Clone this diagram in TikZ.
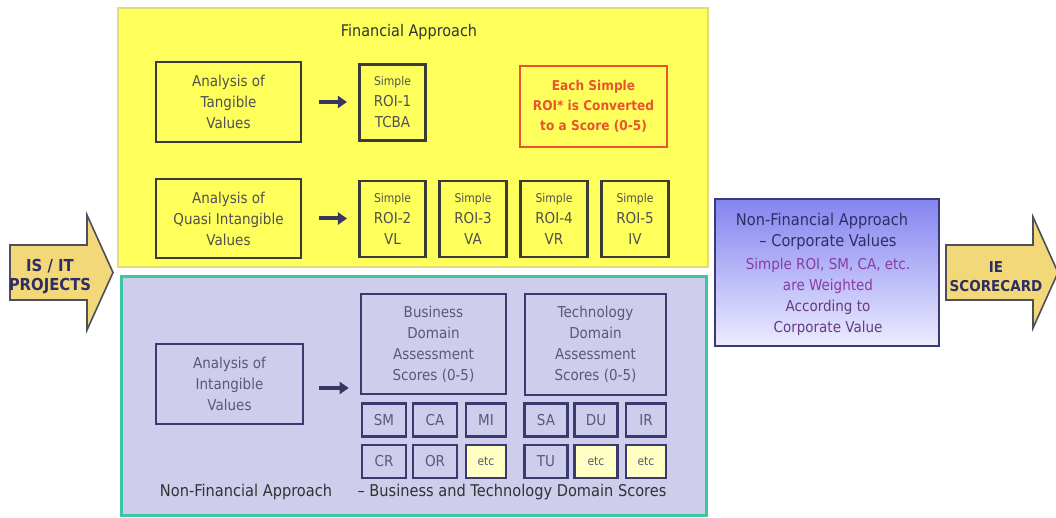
\documentclass[tikz,border=0pt]{standalone}
\usepackage{fontspec}
\setmainfont{DejaVu Sans}[FakeStretch=0.9]
\usetikzlibrary{arrows.meta}

\definecolor{panelyellow}{RGB}{255,255,92}
\definecolor{paneledge}{RGB}{226,220,120}
\definecolor{boxline}{RGB}{58,58,58}
\definecolor{boxtext}{RGB}{80,80,80}
\definecolor{roired}{RGB}{232,84,50}
\definecolor{lavender}{RGB}{206,206,236}
\definecolor{tealedge}{RGB}{58,200,160}
\definecolor{navyline}{RGB}{58,58,112}
\definecolor{navytext}{RGB}{88,88,124}
\definecolor{etcfill}{RGB}{255,255,196}
\definecolor{gold}{RGB}{242,216,120}
\definecolor{arrowedge}{RGB}{78,78,92}
\definecolor{violettop}{RGB}{132,132,240}
\definecolor{violetbot}{RGB}{236,236,255}
\definecolor{cvdark}{RGB}{46,46,100}
\definecolor{cvpurple}{RGB}{138,58,168}
\definecolor{cvplum}{RGB}{104,58,128}
\definecolor{textdark}{RGB}{50,50,50}
\definecolor{pointer}{RGB}{55,55,95}

\begin{document}
\begin{tikzpicture}[x=1pt,y=-1pt,
  every node/.style={inner sep=0pt, align=center, font=\fontsize{15}{21}\selectfont},
  finbox/.style={draw=boxline, line width=2.6pt, text=boxtext},
  roibox/.style={finbox, minimum width=66.5pt, minimum height=76pt},
  domainbox/.style={draw=navyline, line width=2.6pt, text=navytext},
  scorebox/.style={domainbox, minimum width=44pt, minimum height=33pt},
  etcbox/.style={scorebox, fill=etcfill, font=\fontsize{12}{14}\selectfont},
  pointerarrow/.style={draw=pointer, line width=4pt, -{Triangle[length=9pt,width=12pt]}},
  bigarrow/.style={draw=arrowedge, fill=gold, line width=1.6pt, line join=miter},
  bigtext/.style={font=\bfseries\fontsize{15}{19}\selectfont, text=cvdark},
]
\useasboundingbox (0,0) rectangle (1056,518);
\fill[white] (0,0) rectangle (1056,518);

% ---- incoming arrow: IS / IT projects
\path[bigarrow] (10,245) -- (87,245) -- (87,215) -- (113,272.5) -- (87,330)
  -- (87,300) -- (10,300) -- cycle;
\node[bigtext, font=\bfseries\fontsize{16.5}{19}\selectfont] (proj) at (50,277) {IS / IT\\PROJECTS};

% ---- financial approach panel
\node[draw=paneledge, fill=panelyellow, line width=1.6pt,
      minimum width=590pt, minimum height=259pt] (fin) at (413,137.5) {};
\node[font=\fontsize{16}{20}\selectfont, text=textdark] (fintitle) at (409,32) {Financial Approach};

\node[finbox, minimum width=145pt, minimum height=80pt] (tang) at (228.5,102)
  {Analysis of\\Tangible\\Values};
\node[roibox] (roi1) at (392.5,102.5)
  {{\fontsize{12}{21}\selectfont Simple}\\ROI-1\\TCBA};
\node[draw=roired, line width=2.6pt, text=roired, minimum width=147pt, minimum height=81pt,
      font=\bfseries\fontsize{13.5}{20}\selectfont] (conv) at (593.5,106.5)
  {Each Simple\\ROI* is Converted\\to a Score (0-5)};

\node[finbox, minimum width=145pt, minimum height=79pt] (quasi) at (228.5,218.5)
  {Analysis of\\Quasi Intangible\\Values};
\node[roibox] (roi2) at (392.5,219) {{\fontsize{12}{21}\selectfont Simple}\\ROI-2\\VL};
\node[roibox] (roi3) at (473,219)   {{\fontsize{12}{21}\selectfont Simple}\\ROI-3\\VA};
\node[roibox] (roi4) at (554,219)   {{\fontsize{12}{21}\selectfont Simple}\\ROI-4\\VR};
\node[roibox] (roi5) at (635,219)   {{\fontsize{12}{21}\selectfont Simple}\\ROI-5\\IV};

\draw[pointerarrow, shorten <=17pt, shorten >=11pt] (tang.east) -- (tang.east -| roi1.west);
\draw[pointerarrow, shorten <=17pt, shorten >=11pt] (quasi.east) -- (quasi.east -| roi2.west);

% ---- non-financial approach panel
\node[draw=tealedge, fill=lavender, line width=3pt,
      minimum width=585pt, minimum height=238pt] (nonfin) at (413.5,396) {};

\node[domainbox, minimum width=147pt, minimum height=80pt] (intang) at (229.5,384)
  {Analysis of\\Intangible\\Values};
\node[domainbox, minimum width=145pt, minimum height=100pt] (bus) at (433.5,344)
  {Business\\Domain\\Assessment\\Scores (0-5)};
\node[domainbox, minimum width=141pt, minimum height=101pt] (tech) at (595.5,344.5)
  {Technology\\Domain\\Assessment\\Scores (0-5)};

\draw[pointerarrow, shorten <=15pt, shorten >=11pt]
  ([yshift=-4pt]intang.east) -- ([yshift=-4pt]intang.east -| bus.west);

\node[scorebox] (sm) at (384,420) {SM};
\node[scorebox] (ca) at (435,420) {CA};
\node[scorebox, minimum width=40pt] (mi) at (486,420) {MI};
\node[scorebox] (cr) at (384,461.5) {CR};
\node[scorebox] (or) at (435,461.5) {OR};
\node[etcbox, minimum width=40pt] (etca) at (486,461.5) {etc};

\node[scorebox, minimum width=43pt] (sa) at (546,420) {SA};
\node[scorebox, minimum width=43pt] (du) at (596,420) {DU};
\node[scorebox, minimum width=40pt] (ir) at (646,420) {IR};
\node[scorebox, minimum width=43pt] (tu) at (546,461.5) {TU};
\node[etcbox, minimum width=43pt] (etcb) at (596,461.5) {etc};
\node[etcbox, minimum width=40pt] (etcc) at (646,461.5) {etc};

\node[font=\fontsize{16.2}{20}\selectfont, text=textdark] (nflabel) at (246,492)
  {Non-Financial Approach};
\node[font=\fontsize{16.2}{20}\selectfont, text=textdark] (domlabel) at (512,492)
  {– Business and Technology Domain Scores};

% ---- corporate values box
\node[draw=navyline, line width=2.8pt, top color=violettop, bottom color=violetbot,
      minimum width=224pt, minimum height=147pt] (corp) at (827,272.5) {};
\node[font=\fontsize{16.2}{21.6}\selectfont, text=cvdark] (corptitle) at (822,231.5)
  {Non-Financial Approach\\\hspace*{12pt}– Corporate Values};
\node[font=\fontsize{15}{21.6}\selectfont, text=cvpurple] (corpw) at (828,276)
  {Simple ROI, SM, CA, etc.\\are Weighted};
\node[font=\fontsize{15}{21.6}\selectfont, text=cvplum] (corpv) at (828,318)
  {According to\\Corporate Value};

% ---- outgoing arrow: IE scorecard
\path[bigarrow] (946,245) -- (1033,245) -- (1033,217) -- (1058,272.5) -- (1033,328)
  -- (1033,300) -- (946,300) -- cycle;
\node[bigtext] (card) at (996,277) {IE\\SCORECARD};
\end{tikzpicture}
\end{document}
